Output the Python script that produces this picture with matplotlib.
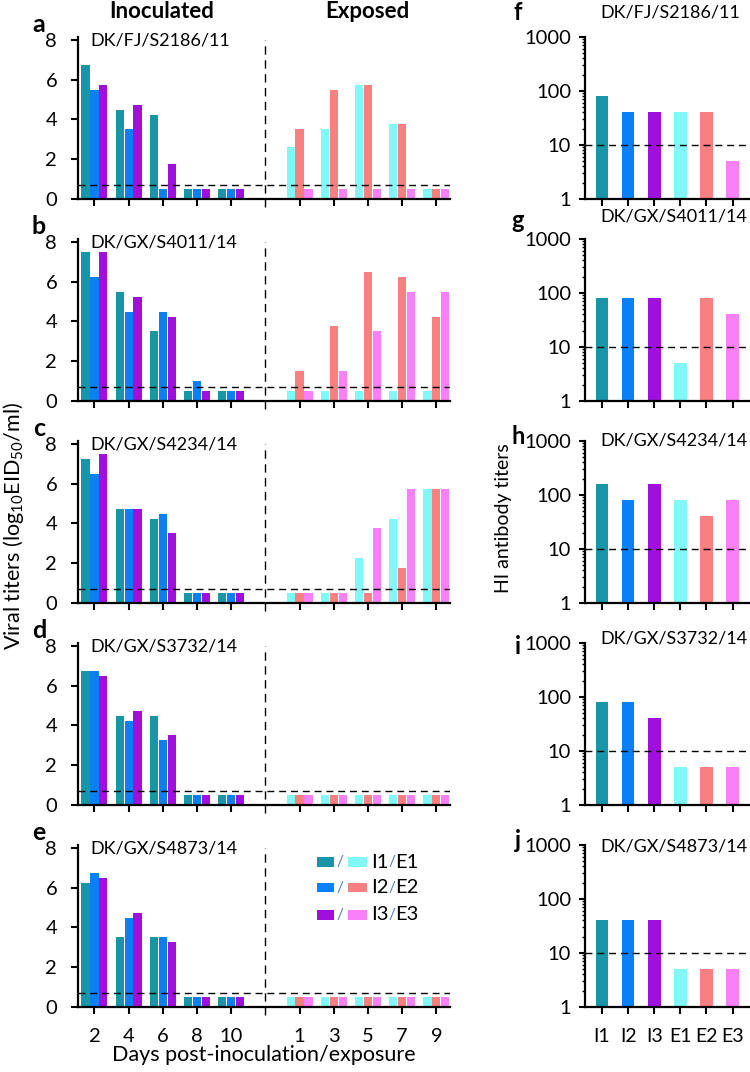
import matplotlib
matplotlib.use('Agg')
import matplotlib.pyplot as plt
import numpy as np

plt.rcParams['font.family'] = ['Lato', 'DejaVu Sans']
plt.rcParams['mathtext.default'] = 'regular'

# strain names per row of panels
strains = ["DK/FJ/S2186/11", "DK/GX/S4011/14", "DK/GX/S4234/14",
           "DK/GX/S3732/14", "DK/GX/S4873/14"]
inoc_days = ["2", "4", "6", "8", "10"]
exp_days = ["1", "3", "5", "7", "9"]
hi_groups = ["I1", "I2", "I3", "E1", "E2", "E3"]

# viral titers (log10 EID50/ml), rows = bird 1..3, columns = day
a_inoc = [[6.75, 4.5, 4.25, 0.5, 0.5], [5.5, 3.5, 0.5, 0.5, 0.5], [5.75, 4.75, 1.75, 0.5, 0.5]]
a_exp = [[2.6, 3.5, 5.75, 3.75, 0.5], [3.5, 5.5, 5.75, 3.75, 0.5], [0.5, 0.5, 0.5, 0.5, 0.5]]
b_inoc = [[7.5, 5.5, 3.5, 0.5, 0.5], [6.25, 4.5, 4.5, 1.0, 0.5], [7.5, 5.25, 4.25, 0.5, 0.5]]
b_exp = [[0.5, 0.5, 0.5, 0.5, 0.5], [1.5, 3.75, 6.5, 6.25, 4.25], [0.5, 1.5, 3.5, 5.5, 5.5]]
c_inoc = [[7.25, 4.75, 4.25, 0.5, 0.5], [6.5, 4.75, 4.5, 0.5, 0.5], [7.5, 4.75, 3.5, 0.5, 0.5]]
c_exp = [[0.5, 0.5, 2.25, 4.25, 5.75], [0.5, 0.5, 0.5, 1.75, 5.75], [0.5, 0.5, 3.75, 5.75, 5.75]]
d_inoc = [[6.75, 4.5, 4.5, 0.5, 0.5], [6.75, 4.25, 3.25, 0.5, 0.5], [6.5, 4.75, 3.5, 0.5, 0.5]]
d_exp = [[0.5] * 5, [0.5] * 5, [0.5] * 5]
e_inoc = [[6.25, 3.5, 3.5, 0.5, 0.5], [6.75, 4.5, 3.5, 0.5, 0.5], [6.5, 4.75, 3.25, 0.5, 0.5]]
e_exp = [[0.5] * 5, [0.5] * 5, [0.5] * 5]

# HI antibody titers per bird (I1, I2, I3, E1, E2, E3)
f_hi = [80, 40, 40, 40, 40, 5]
g_hi = [80, 80, 80, 5, 80, 40]
h_hi = [160, 80, 160, 80, 40, 80]
i_hi = [80, 80, 40, 5, 5, 5]
j_hi = [40, 40, 40, 5, 5, 5]

inoc_all = [a_inoc, b_inoc, c_inoc, d_inoc, e_inoc]
exp_all = [a_exp, b_exp, c_exp, d_exp, e_exp]
hi_all = [f_hi, g_hi, h_hi, i_hi, j_hi]

inoc_colors = ['#1896a8', '#0a80f6', '#a010dc']
exp_colors = ['#80f8f8', '#f88080', '#f880f8']
slash_color = '#4a7ab8'

W, H = 750, 1072
fig = plt.figure(figsize=(W / 100, H / 100), dpi=100)


def add_ax(left, top, right, bottom):
    return fig.add_axes([left / W, 1 - bottom / H, (right - left) / W, (bottom - top) / H])


def fig_text(x, y, s, **kw):
    fig.text(x / W, 1 - y / H, s, **kw)


tops = [37, 239, 441, 643, 845]
left_letters = ['a', 'b', 'c', 'd', 'e']
right_letters = ['f', 'g', 'h', 'i', 'j']
right_label_shift = [-24, -23, 0, -5, 2]
right_letter_shift = [-25, -18, -5, 3, -5]
fs = 14.5      # tick labels
fs_lab = 13    # strain names

for k in range(5):
    top = tops[k]
    bot = top + 162
    last = k == 4

    # viral titers
    ax = add_ax(78, top, 450, bot)
    offs = [-0.26, 0.0, 0.26]
    pos_i = np.arange(5)
    pos_e = np.arange(5) + 6
    for b in range(3):
        ax.bar(pos_i + offs[b], inoc_all[k][b], width=0.24, color=inoc_colors[b], linewidth=0)
        ax.bar(pos_e + offs[b], exp_all[k][b], width=0.24, color=exp_colors[b], linewidth=0)
    ax.axhline(0.7, color='black', lw=1, ls=(0, (5, 3.5)))
    ax.vlines(5, -0.4, 8, color='black', lw=1, linestyles=(0, (6, 4)), clip_on=False)
    ax.set_xlim(-0.48, 10.4)
    ax.set_ylim(0, 8.15)
    ax.set_yticks([0, 2, 4, 6, 8])
    ax.set_xticks(list(pos_i) + list(pos_e))
    if last:
        ax.set_xticklabels(inoc_days + exp_days, fontsize=fs)
        ax.set_xlabel("Days post-inoculation/exposure", fontsize=15.5, labelpad=0)
    else:
        ax.set_xticklabels([])
    ax.tick_params(axis='y', labelsize=fs, length=5, width=1.5, pad=10)
    ax.tick_params(axis='x', length=5, width=1.5, pad=10)
    for s in ['top', 'right']:
        ax.spines[s].set_visible(False)
    for s in ['left', 'bottom']:
        ax.spines[s].set_linewidth(1.6)
    fig_text(90, top + 3, strains[k], fontsize=fs_lab, va='center', ha='left')
    fig_text(39, top - 12, left_letters[k], fontsize=18,
             fontweight='bold', ha='center', va='center')

    # HI titers
    axr = add_ax(585, top, 749, bot)
    xs = np.arange(6)
    axr.bar(xs, hi_all[k], width=0.49, color=inoc_colors + exp_colors, linewidth=0)
    axr.set_yscale('log')
    axr.set_ylim(1, 1000)
    axr.set_xlim(-0.65, 5.63)
    axr.axhline(10, color='black', lw=1, ls=(0, (5, 3.5)))
    axr.set_yticks([1, 10, 100, 1000])
    axr.set_yticklabels(['1', '10', '100', '1000'])
    axr.yaxis.set_minor_locator(matplotlib.ticker.LogLocator(base=10, subs=np.arange(2, 10)))
    axr.yaxis.set_minor_formatter(matplotlib.ticker.NullFormatter())
    axr.set_xticks(xs)
    if last:
        axr.set_xticklabels(hi_groups, fontsize=14)
    else:
        axr.set_xticklabels([])
    axr.tick_params(axis='y', which='major', labelsize=fs, length=4, width=1.5, pad=6)
    axr.tick_params(axis='y', which='minor', length=2.5, width=1)
    axr.tick_params(axis='x', length=5, width=1.5, pad=10)
    for s in ['top', 'right']:
        axr.spines[s].set_visible(False)
    for s in ['left', 'bottom']:
        axr.spines[s].set_linewidth(1.6)
    fig_text(600, top + right_label_shift[k], strains[k], fontsize=fs_lab, va='center', ha='left')
    fig_text(518, top + right_letter_shift[k], right_letters[k], fontsize=17,
             fontweight='bold', ha='center', va='center')

    if last:
        # hand-drawn legend: inoculated swatch / exposed swatch  In/En
        rows_y = [0.895, 0.735, 0.568]
        for r in range(3):
            y = rows_y[r]
            ax.add_patch(plt.Rectangle((0.642, y - 0.028), 0.045, 0.056, color=inoc_colors[r],
                                       transform=ax.transAxes, clip_on=False, lw=0))
            ax.text(0.705, y, "/", color=slash_color, fontsize=11, ha='center', va='center',
                    transform=ax.transAxes)
            ax.add_patch(plt.Rectangle((0.725, y - 0.028), 0.052, 0.056, color=exp_colors[r],
                                       transform=ax.transAxes, clip_on=False, lw=0))
            ax.text(0.835, y, "I%d" % (r + 1), fontsize=fs, ha='right', va='center',
                    transform=ax.transAxes)
            ax.text(0.843, y, "/", color=slash_color, fontsize=11, ha='center', va='center',
                    transform=ax.transAxes)
            ax.text(0.853, y, "E%d" % (r + 1), fontsize=fs, ha='left', va='center',
                    transform=ax.transAxes)

fig_text(162, 12, "Inoculated", fontsize=16, fontweight='bold', ha='center', va='center')
fig_text(367, 12, "Exposed", fontsize=16, fontweight='bold', ha='center', va='center')
fig_text(14, 526, "Viral titers (log$_{10}$EID$_{50}$/ml)", fontsize=15.5, rotation=90,
         ha='center', va='center')
fig_text(504, 518, "HI antibody titers", fontsize=14, rotation=90, ha='center', va='center')

plt.savefig('out.png', dpi=100)
plt.close()
